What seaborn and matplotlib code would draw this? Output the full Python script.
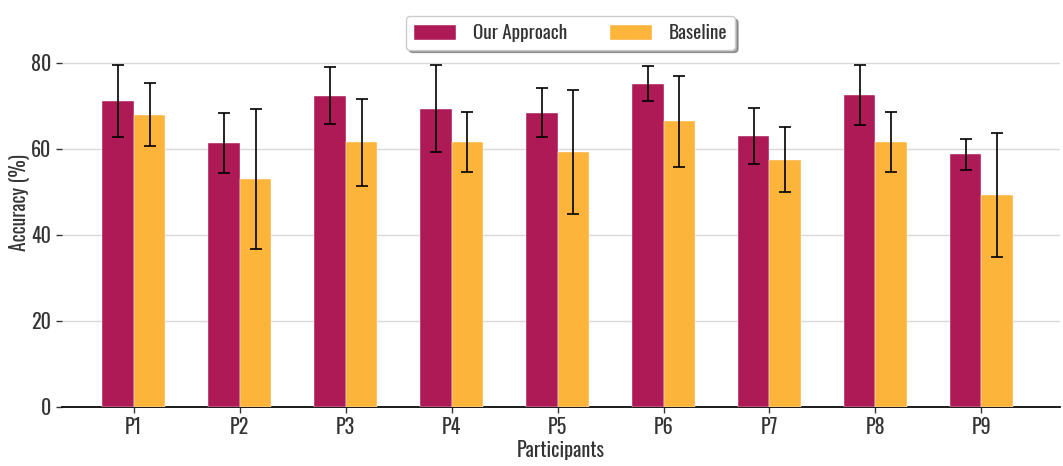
import pandas as pd
import seaborn as sns
import matplotlib.pyplot as plt
from matplotlib import font_manager

# Values
participants = ["P1", "P2", "P3", "P4", "P5", "P6", "P7", "P8", "P9"]
ours_mean = [71.2, 61.4, 72.4, 69.4, 68.4, 75.2, 63.1, 72.6, 58.8]
ours_err = [8.4, 7.0, 6.6, 10.1, 5.7, 4.0, 6.5, 7.0, 3.6]
base_mean = [68.0, 53.0, 61.5, 61.6, 59.2, 66.4, 57.5, 61.7, 49.2]
base_err = [7.4, 16.3, 10.1, 7.0, 14.4, 10.5, 7.6, 7.0, 14.4]
methods = ["Our Approach", "Baseline"]
colors = ["#AD1A55", "#FDB43A"]

df = pd.DataFrame({
    "participant": participants * 2,
    "acc": ours_mean + base_mean,
    "err": ours_err + base_err,
    "method": [methods[0]] * len(participants) + [methods[1]] * len(participants),
})

sns.set_theme(style="white")
names = {f.name for f in font_manager.fontManager.ttflist}
if "Oswald" in names:
    plt.rcParams["font.family"] = ["Oswald", "DejaVu Sans"]
else:
    plt.rcParams["font.family"] = ["DejaVu Sans"]
for key in ["text.color", "axes.labelcolor", "xtick.color", "ytick.color"]:
    plt.rcParams[key] = "#333333"

fig, ax = plt.subplots(figsize=(10.63, 4.66), dpi=100)
sns.barplot(data=df, x="participant", y="acc", hue="method", palette=colors,
            saturation=1, width=0.6, errorbar=None, ax=ax,
            edgecolor="white", linewidth=0.3, zorder=3)

# error bars at the centre of each bar
for container, m in zip(ax.containers, methods):
    sub = df[df["method"] == m]
    xs = [p.get_x() + p.get_width() / 2 for p in container.patches]
    ax.errorbar(xs, sub["acc"], yerr=sub["err"], fmt="none", ecolor="black",
                elinewidth=1.2, capsize=4.5, capthick=1.2, zorder=4)

ax.set_xlim(-0.68, 8.74)
ax.set_ylim(0, 85)
ax.set_yticks([0, 20, 40, 60, 80])
ax.yaxis.grid(True, color="#d9d9d9", linewidth=1, zorder=0)
ax.set_axisbelow(True)
sns.despine(ax=ax, left=True)
ax.spines["bottom"].set_color("black")
ax.tick_params(axis="both", labelsize=14.5, length=4, width=1, color="#333333",
               bottom=True, left=True)
ax.set_xlabel("Participants", fontsize=14.5, labelpad=2)
ax.set_ylabel("Accuracy (%)", fontsize=14)
ax.yaxis.set_label_coords(-0.032, 0.56)

leg = ax.legend(loc="upper center", bbox_to_anchor=(0.51, 1.095), ncol=2,
                frameon=True, fancybox=True, shadow=True, fontsize=13.8,
                handlelength=2.2, handleheight=0.8, handletextpad=0.9,
                columnspacing=2.2, borderpad=0.4)
leg.get_frame().set_edgecolor("#cccccc")

fig.subplots_adjust(left=0.058, right=0.997, bottom=0.127, top=0.911)
fig.savefig("out.png", dpi=100)
